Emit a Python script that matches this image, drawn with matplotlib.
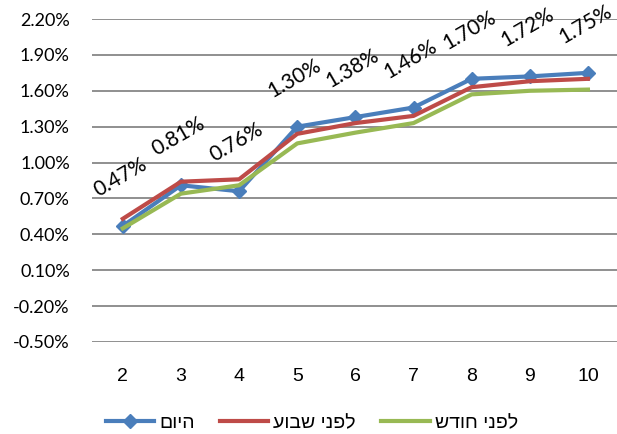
import numpy as np
from matplotlib import pyplot as plt

plt.rcParams['font.family'] = ['Liberation Sans', 'DejaVu Sans']

FONTSIZE = 14
FONTSIZE_LABELS = 15

days = [2, 3, 4, 5, 6, 7, 8, 9, 10]
today = [0.47, 0.81, 0.76, 1.30, 1.38, 1.46, 1.70, 1.72, 1.75]
week_ago = [0.53, 0.84, 0.86, 1.24, 1.33, 1.39, 1.63, 1.68, 1.70]
month_ago = [0.45, 0.74, 0.81, 1.16, 1.25, 1.33, 1.57, 1.60, 1.61]

names = ['היום', 'לפני שבוע', 'לפני חודש']
colors = ['#4A7EBB', '#BE4B48', '#98B954']
y_ticks = np.arange(-0.5, 2.21, 0.3)


def heb(s: str) -> str:
    # matplotlib has no bidi, so flip the string for display
    return s[::-1]


fig = plt.figure(figsize=(6.17, 4.34), dpi=100)
ax = fig.add_axes([92 / 617, 1 - 342 / 434, 1 - 92 / 617, (342 - 19) / 434])

ax.plot(days, today, color=colors[0], lw=3, marker='D', ms=7, label=heb(names[0]))
ax.plot(days, week_ago, color=colors[1], lw=3, label=heb(names[1]))
ax.plot(days, month_ago, color=colors[2], lw=3, label=heb(names[2]))

for x, y in zip(days, today):
    ax.annotate(f'{y:.2f}%', (x, y), xytext=(-2, 35), textcoords='offset points',
                ha='center', va='center', rotation=30, fontsize=FONTSIZE_LABELS,
                family=['Lato', 'DejaVu Sans'], annotation_clip=False)

ax.set_xlim(1.47, 10.5)
ax.set_ylim(-0.5, 2.2)
ax.set_xticks(days)
ax.set_yticks(y_ticks)
ax.set_yticklabels([f'{v:.2f}%' for v in y_ticks], family=['Lato', 'DejaVu Sans'], fontsize=13)
ax.tick_params(length=0, labelsize=FONTSIZE)
ax.tick_params(axis='y', pad=16, labelsize=13)
ax.tick_params(axis='x', pad=19)
ax.grid(axis='y', color='#878787', lw=1.3)
ax.set_axisbelow(True)
for s in ax.spines.values():
    s.set_visible(False)

fig.legend(loc='lower center', bbox_to_anchor=(0.505, -0.035), ncol=3, frameon=False,
           fontsize=FONTSIZE, handlelength=2.5, columnspacing=1.3, handletextpad=0.25)

fig.savefig('out.png', dpi=100)
